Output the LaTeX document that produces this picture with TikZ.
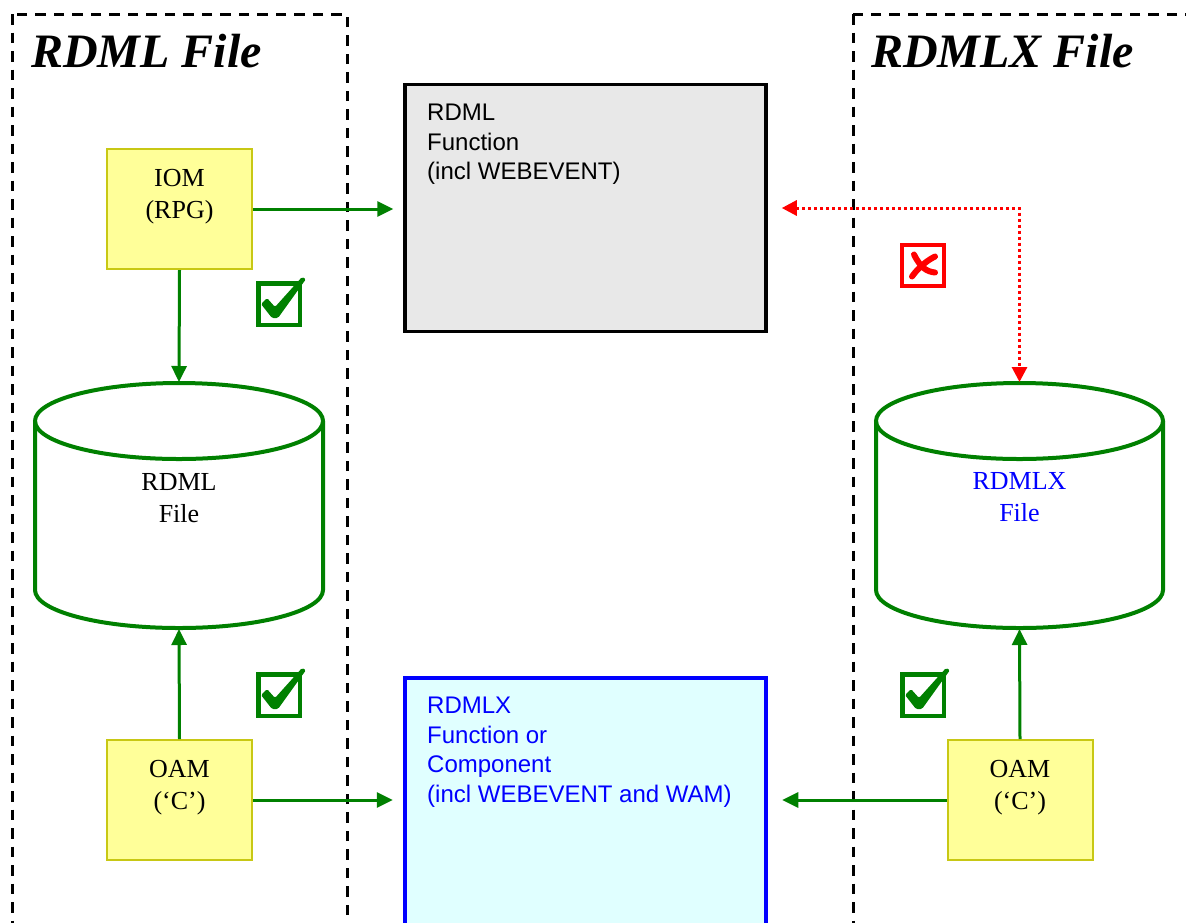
\documentclass[tikz,border=0pt]{standalone}
\usepackage{fontspec}
\setmainfont{Liberation Serif}
\newfontfamily\arialfont{Liberation Sans}
\usetikzlibrary{arrows.meta,calc}

\definecolor{okgreen}{RGB}{0,128,0}
\definecolor{yfill}{RGB}{255,255,153}
\definecolor{yedge}{RGB}{200,200,20}
\definecolor{gfill}{RGB}{232,232,232}
\definecolor{cfill}{RGB}{224,255,255}
\definecolor{pureblue}{RGB}{0,0,255}
\definecolor{purered}{RGB}{255,0,0}

\tikzset{
  zone/.style={draw=black,line width=3pt,dash pattern=on 10.5pt off 8pt},
  title/.style={font=\fontsize{48}{56}\selectfont\bfseries\itshape,anchor=base west,inner sep=0pt},
  ybox/.style={draw=yedge,fill=yfill,line width=2pt,minimum width=145pt,minimum height=120pt,inner sep=0pt},
  graybox/.style={draw=black,fill=gfill,line width=3.5pt,minimum width=361pt,minimum height=247pt,inner sep=0pt},
  cyanbox/.style={draw=pureblue,fill=cfill,line width=4.5pt,minimum width=361pt,minimum height=300pt,inner sep=0pt},
  serif text/.style={font=\fontsize{26}{31.5}\selectfont,align=center,inner sep=0pt,anchor=north},
  sans text/.style={font=\arialfont\fontsize{24}{29.8}\selectfont,align=left,inner sep=0pt,anchor=north west},
  cyl/.style={draw=okgreen,line width=4pt},
  garrow/.style={draw=okgreen,line width=3pt,-{Triangle[length=16pt,width=15pt]}},
  rlink/.style={draw=purered,line width=3pt,dash pattern=on 3pt off 3pt,
    {Triangle[length=15pt,width=15pt]}-{Triangle[length=15pt,width=15pt]}},
  okmark/.pic={
    \draw[okgreen,line width=4.5pt] (-20.75,-20.75) rectangle (20.75,20.75);
    \fill[okgreen,rounded corners=1.5pt] (-18,0) -- (-12,-6) -- (-4,3) -- (23,-27)
      -- (27,-25) -- (-1,14) -- (-7,14) -- cycle;
  },
  nomark/.pic={
    \draw[purered,line width=4pt] (-21,-20.5) rectangle (21,20.5);
    \draw[purered,line width=6pt,line cap=round] (-9,-11) .. controls (-2,3) and (4,6) .. (12,7);
    \draw[purered,line width=6pt,line cap=round] (12,-9) .. controls (2,-4) and (-6,4) .. (-11,11);
  }
}

\begin{document}
\begin{tikzpicture}[x=1pt,y=-1pt]
\useasboundingbox (0,0) rectangle (1186,922);
\clip (0,0) rectangle (1186,922);

% the two file areas
\draw[zone] (12,14) rectangle (347,1000);
\draw[zone] (853,14) rectangle (1250,1000);
\node[title] (ltitle) at (31,67) {RDML File};
\node[title] (rtitle) at (871,67) {RDMLX File};

% function boxes
\node[graybox] (rdmlfn) at (585.5,208) {};
\node[sans text] (rdmlfntxt) at (427,103.5) {RDML\\Function\\(incl WEBEVENT)};
\node[cyanbox] (rdmlxfn) at (585.5,828) {};
\node[sans text,text=pureblue] (rdmlxfntxt) at (427,696.5)
  {RDMLX\\Function or\\Component\\(incl WEBEVENT and WAM)};

% access modules
\node[ybox] (iom) at (179.5,209) {};
\node[serif text] (iomtxt) at (179.5,169.5) {IOM\\(RPG)};
\node[ybox] (oaml) at (179.5,800) {};
\node[serif text] (oamltxt) at (179.5,760.5) {OAM\\(‘C’)};
\node[ybox] (oamr) at (1020,800) {};
\node[serif text] (oamrtxt) at (1020,760.5) {OAM\\(‘C’)};

% RDML file cylinder
\draw[cyl,fill=white] (35,421) -- (35,590) arc[start angle=180,end angle=360,x radius=144pt,y radius=38pt] -- (323,421);
\draw[cyl] (179,421) ellipse [x radius=144pt,y radius=38pt];
\coordinate (lcyltop) at (179,382);
\coordinate (lcylbot) at (179,629);
\node[serif text] (lcyltxt) at (179,473.5) {RDML\\File};

% RDMLX file cylinder
\draw[cyl,fill=white] (876,421) -- (876,590) arc[start angle=180,end angle=360,x radius=143.5pt,y radius=38pt] -- (1163,421);
\draw[cyl] (1019.5,421) ellipse [x radius=143.5pt,y radius=38pt];
\coordinate (rcyltop) at (1019.5,382);
\coordinate (rcylbot) at (1019.5,629);
\node[serif text,text=pureblue] (rcyltxt) at (1019.5,472.5) {RDMLX\\File};

% connectors
\draw[garrow] (iom.east) -- ([xshift=-10pt]rdmlfn.west |- iom.east);
\draw[garrow] (iom.south) -- (lcyltop);
\draw[garrow] (oaml.north) -- (lcylbot);
\draw[garrow] (oaml.east) -- ([xshift=-10pt]rdmlxfn.west |- oaml.east);
\draw[garrow] (oamr.north) -- (rcylbot);
\draw[garrow] (oamr.west) -- ([xshift=14pt]rdmlxfn.east |- oamr.west);
\draw[rlink] ([xshift=14pt]rdmlfn.east) -| (rcyltop);

% allowed / not allowed marks
\pic at (279,304) {okmark};
\pic at (279,695) {okmark};
\pic at (923,695) {okmark};
\pic at (923,265.5) {nomark};
\end{tikzpicture}
\end{document}
